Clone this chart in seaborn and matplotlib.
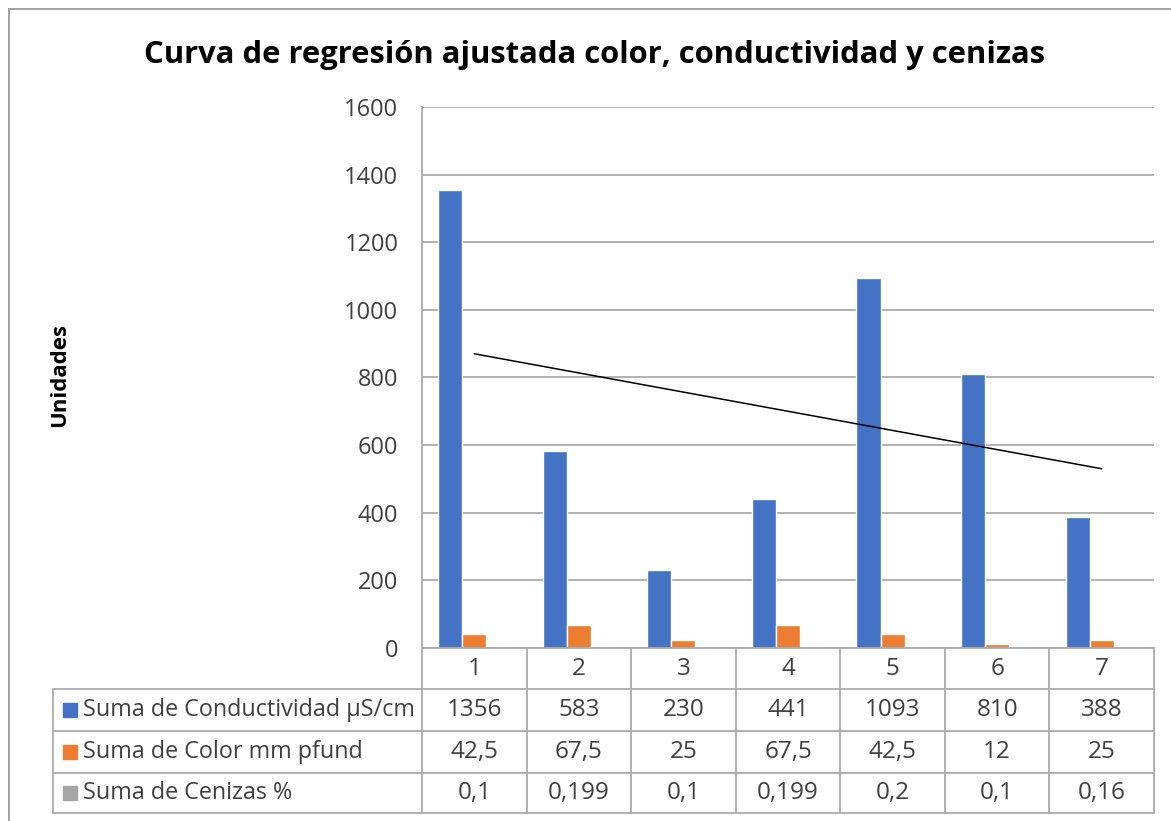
import numpy as np
import pandas as pd
import matplotlib
matplotlib.use("Agg")
import matplotlib.pyplot as plt
import seaborn as sns

# Datos
categorias = ["1", "2", "3", "4", "5", "6", "7"]
conductividad = [1356, 583, 230, 441, 1093, 810, 388]
color_pfund = [42.5, 67.5, 25, 67.5, 42.5, 12, 25]
cenizas = [0.1, 0.199, 0.1, 0.199, 0.2, 0.1, 0.16]
etiquetas_conductividad = ["1356", "583", "230", "441", "1093", "810", "388"]
etiquetas_color = ["42,5", "67,5", "25", "67,5", "42,5", "12", "25"]
etiquetas_cenizas = ["0,1", "0,199", "0,1", "0,199", "0,2", "0,1", "0,16"]
series = ["Suma de Conductividad µS/cm", "Suma de Color mm pfund", "Suma de Cenizas %"]
colores = ["#4472C4", "#ED7D31", "#A5A5A5"]

sns.set_style("white")
plt.rcParams["font.family"] = ["Open Sans", "DejaVu Sans"]

df = pd.DataFrame({
    "categoria": categorias * 3,
    "serie": [series[0]] * 7 + [series[1]] * 7 + [series[2]] * 7,
    "valor": conductividad + color_pfund + cenizas,
})

fig = plt.figure(figsize=(11.71, 8.21), dpi=100)
ax = fig.add_axes([422 / 1171, 1 - 648 / 821, 732 / 1171, 541 / 821])

sns.barplot(data=df, x="categoria", y="valor", hue="serie", palette=colores,
            width=0.69, gap=0, legend=False, ax=ax, errorbar=None, saturation=1)

# Línea de tendencia lineal sobre la conductividad
pos = np.arange(len(categorias))
sns.regplot(x=pos, y=np.array(conductividad, dtype=float), scatter=False, ci=None,
            truncate=True, color="black", line_kws={"lw": 1.1}, ax=ax)

ax.set_xlim(-0.5, 6.5)
ax.set_ylim(0, 1600)
ax.set_yticks(range(0, 1601, 200))
ax.yaxis.grid(True, color="#ABABAB", lw=1.3)
ax.set_axisbelow(True)
ax.tick_params(axis="y", length=0, pad=17, labelsize=17, colors="#404040")
ax.set_xticks([])
ax.set_xlabel("")
ax.set_ylabel("")
for s in ["top", "right"]:
    ax.spines[s].set_visible(False)
ax.spines["left"].set_color("#ABABAB")
ax.spines["left"].set_linewidth(1.3)
ax.spines["bottom"].set_color("#ABABAB")
ax.spines["bottom"].set_linewidth(1.3)

# Tabla de datos debajo del gráfico
lc = "#ABABAB"
filas_y = [0, -41 / 541, -83 / 541, -125 / 541, -165 / 541]
x_lab = -369 / 732
tr = ax.transAxes
for yy in filas_y[1:]:
    ax.plot([x_lab, 1], [yy, yy], color=lc, lw=1.3, transform=tr, clip_on=False)
for i in range(len(categorias) + 1):
    xx = i / len(categorias)
    ax.plot([xx, xx], [filas_y[0], filas_y[-1]], color=lc, lw=1.3, transform=tr, clip_on=False)
ax.plot([x_lab, x_lab], [filas_y[1], filas_y[-1]], color=lc, lw=1.3, transform=tr, clip_on=False)

valores_tabla = [etiquetas_conductividad, etiquetas_color, etiquetas_cenizas]
for i, cat in enumerate(categorias):
    xc = (i + 0.5) / len(categorias)
    ax.text(xc, (filas_y[0] + filas_y[1]) / 2, cat, transform=tr, ha="center", va="center",
            fontsize=17.5, color="#404040")
    for r in range(3):
        ax.text(xc, (filas_y[r + 1] + filas_y[r + 2]) / 2, valores_tabla[r][i], transform=tr,
                ha="center", va="center", fontsize=17.5, color="#404040")
for r in range(3):
    yc = (filas_y[r + 1] + filas_y[r + 2]) / 2
    ax.plot([x_lab + 17 / 732], [yc], marker="s", ms=10, color=colores[r], transform=tr, clip_on=False)
    ax.text(x_lab + 30 / 732, yc, series[r], transform=tr, ha="left", va="center",
            fontsize=16.8, color="#404040")

# Título y eje
fig.text(595 / 1171, 1 - 55 / 821, "Curva de regresión ajustada color, conductividad y cenizas",
         ha="center", va="center", fontsize=22.3, fontweight="bold", color="black")
fig.text(60 / 1171, 1 - 375 / 821, "Unidades", rotation=90, ha="center", va="center",
         fontsize=16, fontweight="bold", color="black")

# Borde del área del gráfico
fig.add_artist(plt.Line2D([9 / 1171, 9 / 1171], [0, 1 - 9 / 821], color="#9A9A9A", lw=1.3))
fig.add_artist(plt.Line2D([9 / 1171, 1], [1 - 9 / 821, 1 - 9 / 821], color="#9A9A9A", lw=1.3))

fig.savefig("out.png", dpi=100)
